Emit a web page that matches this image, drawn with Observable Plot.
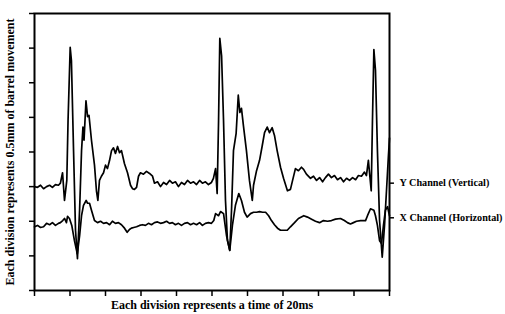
<!DOCTYPE html>
<html>
<head>
<meta charset="utf-8">
<script src="https://cdn.jsdelivr.net/npm/d3@7"></script>
<script src="https://cdn.jsdelivr.net/npm/@observablehq/plot@0.6"></script>
<style>
  html, body { margin: 0; padding: 0; background: #fff; }
</style>
</head>
<body>
<div id="chart"></div>
<script>
// time in ms (20 ms per division), displacement in mm (0.5 mm per division)
const yChannel = [[0,1.50],[1.7,1.49],[3.4,1.52],[5.1,1.47],[6.8,1.50],[8.5,1.52],[10.1,1.49],[11.8,1.53],[13.5,1.52],[14.6,1.55],[15.8,1.70],[16.9,1.30],[18.2,1.59],[18.9,2.45],[20.1,3.51],[20.8,3.32],[22.0,2.02],[23.1,0.87],[24.2,0.46],[25.4,1.16],[26.5,2.02],[27.3,2.36],[27.9,2.17],[29.0,2.74],[29.9,2.51],[30.7,2.53],[32.1,2.17],[33.8,1.81],[34.9,1.44],[35.7,1.30],[36.6,1.59],[37.7,1.65],[38.9,1.70],[40.0,1.81],[41.1,1.76],[42.3,1.88],[43.4,2.02],[44.5,2.06],[45.6,1.98],[46.8,2.08],[47.9,1.99],[49.0,2.02],[50.7,1.83],[52.4,1.70],[54.1,1.52],[55.2,1.47],[56.3,1.46],[57.5,1.49],[58.6,1.65],[59.7,1.70],[61.4,1.68],[63.1,1.72],[64.8,1.69],[66.5,1.65],[67.6,1.55],[69.3,1.57],[71.0,1.50],[72.7,1.56],[74.4,1.53],[76.1,1.59],[77.7,1.55],[79.4,1.57],[81.1,1.50],[82.8,1.56],[84.5,1.53],[86.2,1.59],[87.9,1.55],[89.6,1.57],[91.3,1.53],[93.0,1.59],[94.6,1.55],[96.3,1.57],[98.0,1.53],[99.7,1.56],[100.8,1.62],[102.0,1.76],[102.9,1.40],[103.7,2.45],[104.4,3.64],[105.4,3.39],[106.5,2.45],[107.6,1.30],[108.7,0.72],[110.0,0.58],[111.0,1.16],[112.1,2.02],[113.6,2.27],[114.8,2.82],[115.7,2.57],[116.6,2.63],[117.7,2.38],[119.4,2.02],[121.1,1.59],[122.7,1.30],[123.4,1.52],[125.1,1.73],[126.8,1.88],[128.3,2.09],[129.6,2.28],[131.1,2.36],[132.4,2.28],[133.9,2.35],[135.2,2.24],[136.7,2.02],[138.6,1.78],[140.3,1.62],[142.5,1.44],[144.2,1.46],[145.4,1.59],[147.0,1.76],[148.7,1.73],[150.4,1.78],[151.6,1.75],[153.2,1.68],[155.5,1.62],[157.2,1.65],[158.9,1.59],[160.6,1.63],[162.3,1.57],[163.9,1.63],[165.6,1.68],[167.3,1.63],[169.0,1.66],[170.7,1.60],[172.4,1.63],[174.1,1.57],[175.8,1.62],[177.5,1.59],[179.2,1.63],[180.9,1.60],[182.5,1.66],[184.2,1.65],[185.9,1.71],[187.0,1.66],[188.1,1.88],[189.7,1.44],[190.4,2.45],[191.2,3.48],[192.1,3.18],[193.2,2.02],[194.4,1.01],[195.9,0.48],[197.2,0.94],[198.3,1.44],[199.4,1.95],[200.0,2.20]];

const xChannel = [[0,0.92],[1.7,0.94],[3.4,0.91],[5.1,0.92],[6.8,0.97],[8.5,0.95],[10.1,0.98],[11.8,0.94],[13.5,0.97],[14.6,0.98],[15.9,1.01],[16.9,1.04],[18.0,0.98],[18.6,1.07],[19.7,1.04],[21.0,0.94],[22.5,0.72],[24.1,0.53],[25.4,0.79],[26.5,1.08],[27.6,1.23],[29.1,1.30],[29.9,1.26],[31.0,1.26],[32.1,1.16],[33.8,1.01],[35.5,0.98],[37.2,1.00],[38.9,0.97],[40.6,0.98],[42.3,0.95],[43.9,1.00],[45.6,0.97],[47.3,0.98],[49.0,0.95],[50.7,0.90],[52.2,0.84],[53.5,0.88],[54.6,0.90],[55.9,0.91],[57.5,0.92],[59.2,0.94],[60.8,0.95],[62.5,0.94],[64.2,0.97],[65.9,0.95],[67.6,0.98],[69.3,0.99],[71.0,0.97],[72.7,0.98],[74.4,1.00],[76.1,0.97],[77.7,0.98],[79.4,0.95],[81.1,0.97],[82.8,0.94],[84.5,0.97],[86.2,0.98],[87.9,0.95],[89.6,0.97],[91.3,0.95],[93.0,0.98],[94.6,0.94],[96.3,0.97],[98.0,0.98],[99.7,0.97],[101.0,1.01],[102.0,1.11],[103.7,1.08],[104.8,1.14],[106.5,1.11],[108.2,0.79],[110.0,0.58],[111.5,0.94],[113.2,1.23],[115.1,1.40],[116.6,1.30],[118.3,1.13],[119.8,1.06],[121.7,1.11],[123.4,1.13],[125.1,1.13],[126.8,1.14],[128.5,1.13],[130.2,1.13],[131.9,1.08],[133.5,1.01],[135.2,0.95],[136.9,0.90],[138.6,0.87],[140.3,0.87],[142.4,0.87],[144.2,0.92],[146.5,0.98],[148.7,1.04],[151.7,1.08],[153.8,1.06],[156.1,1.03],[158.3,1.00],[160.6,0.98],[162.8,1.01],[165.1,1.00],[167.3,1.01],[169.6,1.03],[172.4,1.04],[174.6,1.01],[176.3,0.98],[178.0,0.96],[179.7,0.98],[181.4,1.00],[183.7,1.01],[185.4,1.01],[186.5,1.01],[187.6,1.08],[189.3,1.18],[191.2,1.16],[192.1,1.08],[193.2,0.94],[194.4,0.72],[195.5,0.68],[196.6,0.94],[197.7,1.16],[198.9,1.21],[200.0,1.08]];

const xTicks = [0, 20, 40, 60, 80, 100, 120, 140, 160, 180, 200];
const yTicks = [0, 0.5, 1, 1.5, 2, 2.5, 3, 3.5, 4];
const seriesLabels = ["Y Channel (Vertical)", "X Channel (Horizontal)"];
const labelLevels = [1.55, 1.05];
const xTitle = "Each division represents a time of 20ms";
const yTitle = "Each division represents 0.5mm of barrel movement";

const labelRows = seriesLabels.map((name, i) => ({name, level: labelLevels[i]}));
const font = "'Liberation Serif', 'DejaVu Serif', serif";

const chart = Plot.plot({
  width: 505,
  height: 314,
  marginLeft: 34,
  marginRight: 116,
  marginTop: 13,
  marginBottom: 24,
  style: {fontFamily: font, background: "#fff", color: "#000"},
  x: {domain: [0, 200]},
  y: {domain: [0, 4]},
  marks: [
    Plot.frame({stroke: "#000", strokeWidth: 2}),
    Plot.axisX({ticks: xTicks, tickSize: 6, tickFormat: () => "", label: null, strokeWidth: 1.5}),
    Plot.axisY({ticks: yTicks, tickSize: 5, tickFormat: () => "", label: null, strokeWidth: 1.5}),
    Plot.line(yChannel, {x: d => d[0], y: d => d[1], stroke: "#000", strokeWidth: 1.7, curve: "linear"}),
    Plot.line(xChannel, {x: d => d[0], y: d => d[1], stroke: "#000", strokeWidth: 1.7, curve: "linear"}),
    Plot.ruleY(labelRows, {y: "level", x1: 200, x2: 202.8, stroke: "#000", strokeWidth: 1.5}),
    Plot.text(labelRows, {x: 200, y: "level", text: "name", dx: 10, textAnchor: "start", fontSize: 10.2, fontWeight: "bold", fill: "#000"}),
    Plot.text([xTitle], {frameAnchor: "bottom", text: d => d, dy: 18, fontSize: 12, fontWeight: "bold", fill: "#000"}),
    Plot.text([yTitle], {frameAnchor: "left", text: d => d, dx: -24, rotate: -90, textAnchor: "middle", fontSize: 12, fontWeight: "bold", fill: "#000"})
  ]
});
document.getElementById("chart").appendChild(chart);
</script>
</body>
</html>
